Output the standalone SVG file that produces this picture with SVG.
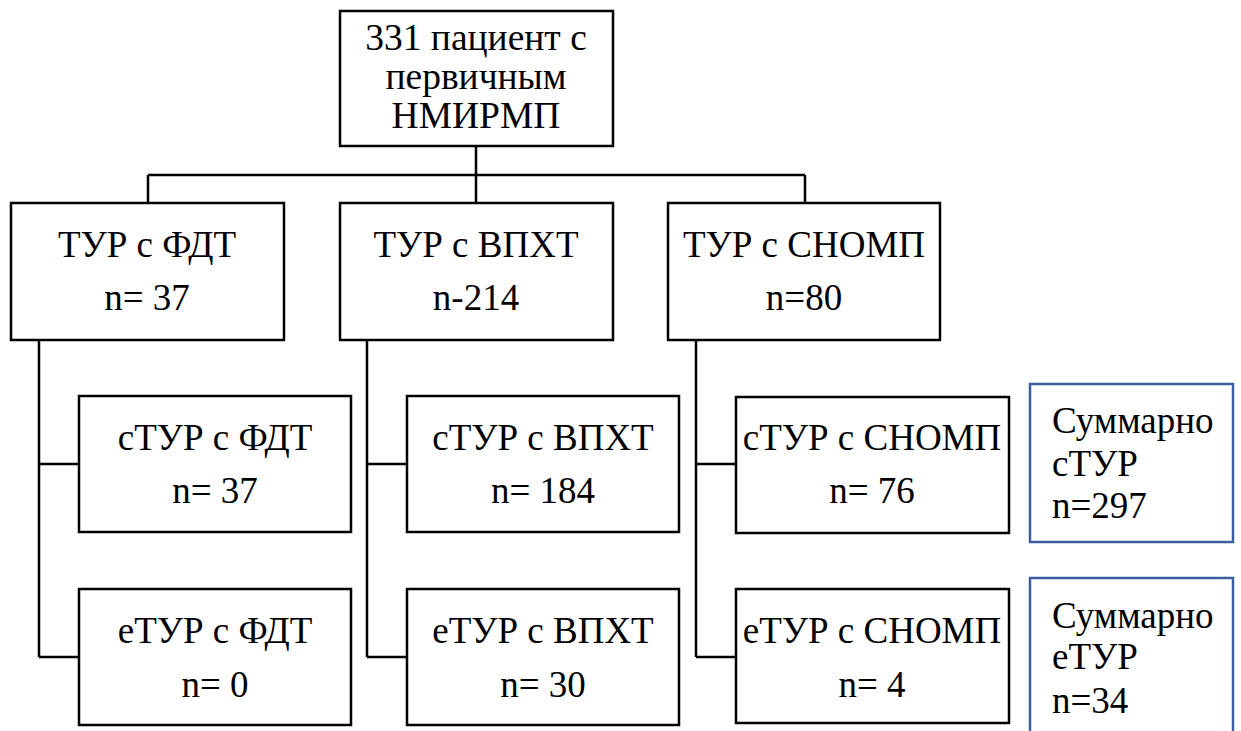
<svg xmlns="http://www.w3.org/2000/svg" width="1241" height="731" viewBox="0 0 1241 731">
<style>
.box{fill:#fff;stroke:#000;stroke-width:2.5}
.sum{fill:#fff;stroke:#3f5f9c;stroke-width:2.5}
.ln{fill:none;stroke:#000;stroke-width:2.5}
.c{fill:#000;text-anchor:middle;font-size:37px}
.t{fill:#000;text-anchor:middle;font-size:37.5px}
.l{fill:#000;font-size:37px}
</style>
<rect width="1241" height="731" fill="#fff"/>
<g id="connectors">
<path class="ln" d="M476 146V175M148 175H805M148 175V203M476 175V203M805 175V203"/>
<path class="ln" d="M39 340V657M39 464H79M39 657H79"/>
<path class="ln" d="M367 340V657M367 464H407M367 657H407"/>
<path class="ln" d="M696 340V657M696 464H736M696 657H736"/>
</g>
<g id="nodes" font-family="Liberation Serif, Tinos, Times New Roman, serif">
<g id="root"><rect class="box" x="340" y="11" width="273" height="135"/>
<text class="t" x="476" y="50">331 пациент с</text>
<text class="t" x="476" y="89">первичным</text>
<text class="t" x="476" y="128">НМИРМП</text></g>
<g id="tur-fdt"><rect class="box" x="11" y="203" width="273" height="137"/>
<text class="c" x="147" y="257">ТУР с ФДТ</text><text class="c" x="147" y="310">n= 37</text></g>
<g id="tur-vpht"><rect class="box" x="340" y="203" width="273" height="137"/>
<text class="c" x="476" y="257">ТУР с ВПХТ</text><text class="c" x="476" y="310">n-214</text></g>
<g id="tur-snomp"><rect class="box" x="668" y="203" width="272" height="137"/>
<text class="c" x="804" y="257">ТУР с СНОМП</text><text class="c" x="804" y="310">n=80</text></g>
<g id="stur-fdt"><rect class="box" x="79" y="396" width="272" height="136"/>
<text class="c" x="215" y="450">сТУР с ФДТ</text><text class="c" x="215" y="503">n= 37</text></g>
<g id="etur-fdt"><rect class="box" x="79" y="589" width="272" height="136"/>
<text class="c" x="215" y="643">еТУР с ФДТ</text><text class="c" x="215" y="697">n= 0</text></g>
<g id="stur-vpht"><rect class="box" x="407" y="396" width="272" height="136"/>
<text class="c" x="543" y="450">сТУР с ВПХТ</text><text class="c" x="543" y="503">n= 184</text></g>
<g id="etur-vpht"><rect class="box" x="407" y="589" width="272" height="136"/>
<text class="c" x="543" y="643">еТУР с ВПХТ</text><text class="c" x="543" y="697">n= 30</text></g>
<g id="stur-snomp"><rect class="box" x="736" y="397" width="273" height="136"/>
<text class="c" x="872" y="450">сТУР с СНОМП</text><text class="c" x="872" y="503">n= 76</text></g>
<g id="etur-snomp"><rect class="box" x="736" y="589" width="273" height="134"/>
<text class="c" x="872" y="643">еТУР с СНОМП</text><text class="c" x="872" y="697">n= 4</text></g>
<g id="sum-stur"><rect class="sum" x="1030" y="384" width="203" height="158"/>
<text class="l" x="1052" y="433">Суммарно</text><text class="l" x="1052" y="476">сТУР</text><text class="l" x="1052" y="518">n=297</text></g>
<g id="sum-etur"><rect class="sum" x="1030" y="578" width="203" height="170"/>
<text class="l" x="1052" y="628">Суммарно</text><text class="l" x="1052" y="669">еТУР</text><text class="l" x="1052" y="713">n=34</text></g>
</g>
</svg>
